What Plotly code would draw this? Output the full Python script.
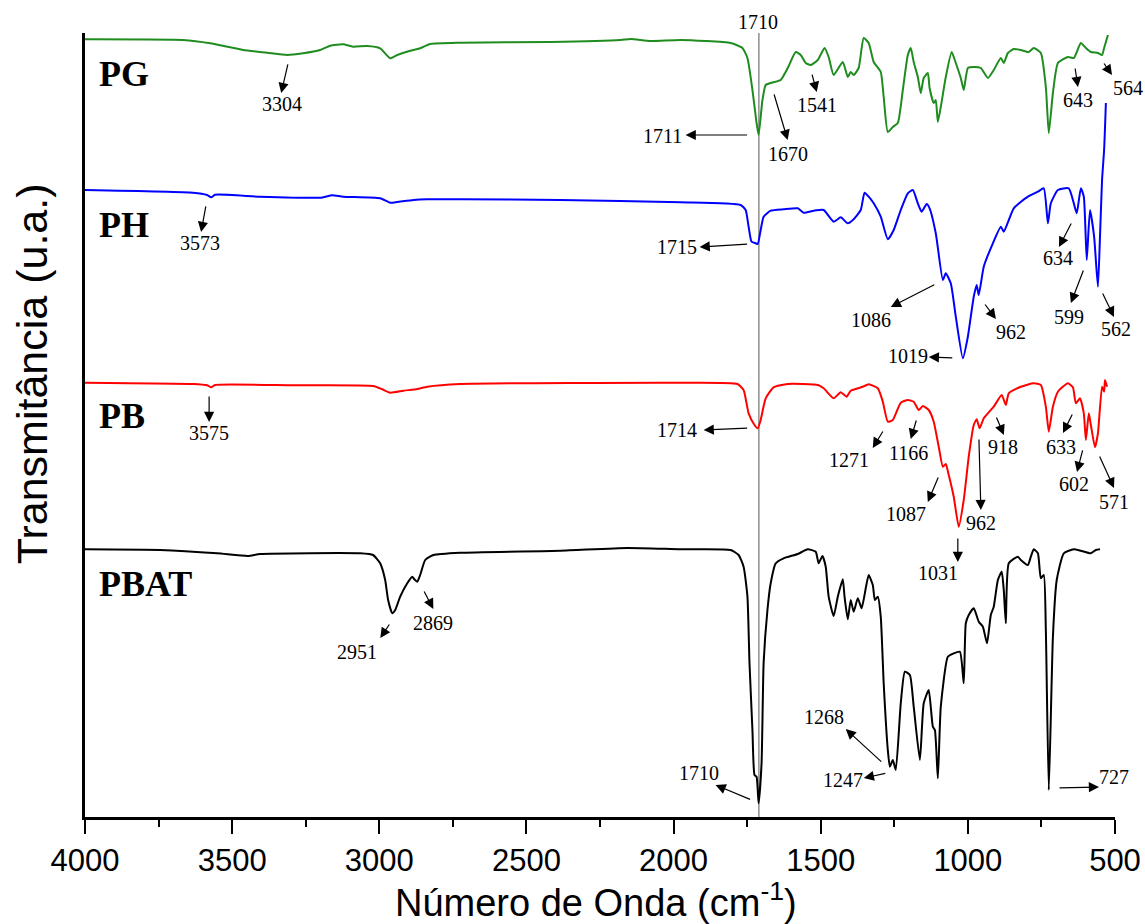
import plotly.graph_objects as go

# ---------------- data (wavenumber in cm-1, stacked transmittance in a.u.) ----------------
PG_wn = [4000, 3667, 3575, 3463, 3381, 3313, 3259, 3201, 3167, 3123, 3089, 3041, 2997, 2963, 2939, 2895, 2861, 2827,
         2725, 2418, 2180, 2146, 2078, 1976, 1806, 1766, 1749, 1732, 1718, 1711, 1698, 1687, 1670, 1636, 1612, 1585,
         1568, 1551, 1534, 1510, 1487, 1473, 1456, 1425, 1408, 1398, 1388, 1371, 1354, 1337, 1320, 1296, 1286, 1272,
         1255, 1238, 1221, 1204, 1194, 1184, 1170, 1160, 1150, 1136, 1130, 1116, 1109, 1102, 1092, 1075, 1055, 1041,
         1024, 1014, 1000, 980, 956, 932, 912, 888, 878, 864, 844, 820, 793, 776, 752, 735, 725, 711, 694, 660, 640,
         616, 599, 582, 558, 544, 537, 524]
PG_t = [77.77, 77.70, 77.37, 76.70, 76.43, 76.20, 76.37, 76.70, 77.13, 77.27, 77.03, 77.10, 76.87, 75.87, 76.20, 76.63,
        76.87, 77.30, 77.43, 77.50, 77.70, 77.80, 77.60, 77.70, 77.40, 76.90, 75.90, 72.70, 69.40, 68.20, 71.70, 73.20,
        73.40, 73.70, 74.90, 76.50, 76.20, 75.40, 75.20, 75.70, 76.90, 76.00, 74.20, 75.50, 74.00, 74.50, 74.20, 74.90,
        77.90, 77.40, 75.50, 74.50, 72.00, 68.50, 69.00, 69.40, 72.70, 76.20, 76.90, 75.50, 74.00, 72.40, 73.90, 74.40,
        72.90, 71.40, 71.70, 69.50, 71.00, 74.00, 76.50, 75.40, 73.90, 72.70, 74.90, 75.00, 74.90, 73.90, 74.70, 75.90,
        75.40, 76.40, 76.80, 76.70, 76.50, 76.90, 76.40, 73.00, 68.40, 72.40, 75.40, 76.00, 75.90, 77.40, 76.90, 76.50,
        76.40, 76.20, 76.90, 78.20]

PH_wn = [4000, 3633, 3585, 3571, 3558, 3405, 3201, 3160, 3123, 2997, 2963, 2939, 2884, 2837, 2725, 2385, 1976, 1772,
         1755, 1745, 1735, 1721, 1714, 1704, 1694, 1670, 1626, 1578, 1558, 1524, 1490, 1456, 1432, 1408, 1388, 1364,
         1351, 1337, 1320, 1296, 1272, 1252, 1228, 1204, 1187, 1170, 1157, 1140, 1130, 1109, 1085, 1075, 1058, 1041,
         1017, 1000, 980, 970, 963, 946, 915, 888, 878, 844, 796, 762, 742, 728, 718, 694, 657, 640, 630, 616, 606,
         596, 585, 571, 558, 551, 544, 537, 531]
PH_t = [62.70, 62.43, 62.20, 61.97, 62.23, 62.03, 61.93, 62.17, 62.03, 61.87, 61.43, 61.50, 61.70, 61.77, 61.77, 61.70,
        61.47, 61.20, 60.70, 59.03, 57.53, 57.37, 57.30, 58.70, 60.03, 60.63, 60.77, 60.87, 60.43, 60.63, 60.70, 59.53,
        59.97, 59.37, 59.77, 60.70, 62.43, 62.03, 61.37, 60.03, 57.77, 58.70, 60.70, 62.37, 62.70, 61.37, 60.53, 61.30,
        60.87, 58.37, 53.70, 54.37, 53.37, 50.03, 45.87, 48.03, 52.03, 53.20, 52.20, 55.03, 57.37, 59.03, 58.53, 60.87,
        62.03, 62.53, 62.87, 59.37, 61.37, 62.70, 62.87, 61.37, 60.37, 62.87, 62.03, 55.70, 60.70, 58.03, 53.03, 58.03,
        63.70, 66.70, 71.40]

PB_wn = [4000, 3633, 3585, 3571, 3558, 3293, 3021, 2990, 2963, 2918, 2871, 2837, 2725, 1976, 1783, 1762, 1745, 1725,
         1714, 1704, 1687, 1660, 1612, 1510, 1490, 1456, 1432, 1412, 1398, 1374, 1357, 1337, 1306, 1289, 1272, 1255,
         1228, 1204, 1184, 1167, 1153, 1133, 1116, 1099, 1085, 1075, 1065, 1048, 1031, 1014, 997, 980, 970, 960, 946,
         912, 885, 871, 861, 820, 776, 752, 735, 725, 711, 694, 660, 643, 633, 619, 606, 599, 589, 582, 568, 558, 544,
         537, 534, 527]
PB_t = [43.43, 43.30, 43.17, 42.97, 43.20, 43.17, 43.10, 42.77, 42.43, 42.63, 42.80, 43.03, 43.30, 43.43, 43.30, 42.70,
        40.37, 39.20, 38.87, 39.70, 41.87, 42.97, 43.30, 43.20, 42.87, 41.87, 42.47, 42.03, 42.63, 42.87, 43.03, 43.27,
        42.87, 41.53, 39.53, 39.70, 41.43, 41.70, 41.53, 40.70, 41.10, 40.70, 39.53, 37.03, 35.03, 35.30, 34.20, 32.03,
        29.03, 31.70, 36.03, 39.20, 39.77, 38.87, 39.87, 41.03, 42.20, 41.20, 42.37, 43.03, 43.37, 43.20, 41.03, 38.53,
        41.03, 42.53, 43.37, 42.97, 41.37, 41.87, 40.37, 37.70, 40.37, 39.20, 36.97, 38.37, 43.03, 42.53, 43.70, 43.03]

PBAT_wn = [4000, 3745, 3551, 3446, 3405, 3065, 3021, 2997, 2980, 2970, 2956, 2946, 2929, 2905, 2888, 2881, 2871, 2861,
           2844, 2816, 2725, 2385, 2157, 1976, 1806, 1779, 1762, 1749, 1742, 1732, 1725, 1718, 1711, 1701, 1694, 1681,
           1670, 1653, 1626, 1578, 1544, 1517, 1507, 1494, 1483, 1473, 1456, 1442, 1425, 1419, 1408, 1398, 1388, 1374,
           1361, 1347, 1337, 1323, 1316, 1306, 1296, 1286, 1272, 1265, 1255, 1245, 1228, 1214, 1197, 1184, 1163, 1150,
           1133, 1119, 1112, 1102, 1092, 1068, 1048, 1027, 1014, 1007, 997, 980, 963, 949, 935, 922, 912, 898, 885, 878,
           871, 861, 830, 820, 796, 786, 776, 762, 752, 742, 735, 725, 711, 698, 674, 640, 616, 582, 565, 551]
PBAT_t = [26.77, 26.70, 26.37, 26.10, 26.30, 26.37, 26.20, 25.37, 23.70, 21.70, 20.37, 20.70, 22.03, 23.37, 24.03, 23.77,
          23.53, 24.20, 25.70, 26.20, 26.43, 26.63, 26.90, 26.77, 26.70, 26.20, 25.03, 22.03, 15.37, 8.70, 4.20, 4.03,
          1.37, 5.37, 15.37, 20.70, 23.37, 25.37, 25.87, 26.30, 26.77, 26.53, 25.37, 26.10, 25.03, 22.03, 20.10, 22.03,
          23.77, 22.03, 19.77, 21.70, 20.53, 21.87, 20.87, 22.87, 24.20, 23.20, 21.70, 22.03, 20.03, 13.37, 6.70, 5.03,
          5.70, 4.70, 11.37, 14.53, 14.20, 11.03, 5.70, 11.37, 12.70, 9.03, 8.70, 3.87, 11.03, 16.03, 16.37, 16.53,
          13.37, 19.37, 20.20, 20.87, 19.53, 19.03, 17.37, 20.20, 21.03, 23.70, 24.53, 22.70, 19.37, 25.37, 26.03, 25.70,
          25.20, 26.03, 26.77, 26.37, 23.87, 24.20, 18.70, 2.70, 18.03, 23.70, 26.37, 26.77, 26.63, 26.37, 26.70, 26.77]

series = [("PG", PG_wn, PG_t, "#1f8c1f"),
          ("PH", PH_wn, PH_t, "#0000ff"),
          ("PB", PB_wn, PB_t, "#ff0000"),
          ("PBAT", PBAT_wn, PBAT_t, "#000000")]

x_ticks = [4000, 3500, 3000, 2500, 2000, 1500, 1000, 500]
x_minor = [3750, 3250, 2750, 2250, 1750, 1250, 750]
ref_line = 1710

# sample names (text, paper y)
sample_labels = [("PG", 0.9477), ("PH", 0.7551), ("PB", 0.5115), ("PBAT", 0.2972)]

# peak labels (text, paper x, paper y)
peak_labels = [
    ("1710", 0.6531, 1.0140),
    ("3304", 0.1914, 0.9094), ("1711", 0.5607, 0.8686), ("1670", 0.6822, 0.8457),
    ("1541", 0.7104, 0.9082), ("643", 0.9640, 0.9145), ("564", 1.0126, 0.9298),
    ("3573", 0.1118, 0.7321), ("1715", 0.5743, 0.7270), ("1086", 0.7629, 0.6339),
    ("962", 0.8989, 0.6186), ("1019", 0.7988, 0.5880), ("634", 0.9446, 0.7130),
    ("599", 0.9553, 0.6378), ("562", 1.0010, 0.6224),
    ("3575", 0.1205, 0.4898), ("1714", 0.5743, 0.4936), ("1271", 0.7415, 0.4554),
    ("1166", 0.7998, 0.4643), ("1087", 0.7969, 0.3865), ("962", 0.8698, 0.3750),
    ("918", 0.8911, 0.4719), ("633", 0.9475, 0.4719), ("602", 0.9602, 0.4247),
    ("571", 0.9990, 0.4018), ("1031", 0.8280, 0.3112),
    ("2951", 0.2643, 0.2105), ("2869", 0.3382, 0.2474), ("1710", 0.5957, 0.0561),
    ("1268", 0.7172, 0.1276), ("1247", 0.7357, 0.0472), ("727", 0.9990, 0.0510),
]

# arrows (head paper x, head paper y, tail dx px, tail dy px)
arrows = [
    (0.1905, 0.9235, 7, -30), (0.5831, 0.8699, 63, 0), (0.6822, 0.8635, -14, -47),
    (0.7104, 0.9247, -5, -19), (0.9640, 0.9311, -3, -20), (0.9971, 0.9464, -9, -13),
    (0.1127, 0.7462, 5, -27), (0.5967, 0.7270, 49, -3), (0.7823, 0.6505, 45, -23),
    (0.8844, 0.6352, -12, -16), (0.8192, 0.5867, 25, 1), (0.9456, 0.7270, 13, -25),
    (0.9572, 0.6556, 13, -34), (0.9990, 0.6378, -12, -25),
    (0.1205, 0.5038, 0, -27), (0.6006, 0.4936, 45, -2), (0.7648, 0.4707, 11, -18),
    (0.8017, 0.4821, 6, -20), (0.8183, 0.4018, 11, -26), (0.8698, 0.3916, -2, -72),
    (0.8921, 0.4872, -8, -19), (0.9495, 0.4898, 10, -20), (0.9631, 0.4401, 6, -23),
    (0.9990, 0.4196, -15, -33), (0.8474, 0.3253, 0, -25),
    (0.2867, 0.2283, 10, -15), (0.3382, 0.2653, -10, -19), (0.6122, 0.0408, 36, 15),
    (0.7386, 0.1122, 37, 34), (0.7561, 0.0497, 23, -5), (0.9845, 0.0383, -41, 1),
]

# ---------------- figure ----------------
fig = go.Figure()
for name, wn, t, color in series:
    fig.add_trace(go.Scatter(x=wn, y=t, mode="lines", name=name,
                             line=dict(color=color, width=2, shape="spline", smoothing=0.5),
                             showlegend=False, hoverinfo="skip"))

fig.add_shape(type="line", xref="x", yref="paper", x0=ref_line, x1=ref_line, y0=0, y1=1,
              line=dict(color="#555555", width=1), layer="below")

annotations = []
serif = "Liberation Serif"
for text, yp in sample_labels:
    annotations.append(dict(text=f"<b>{text}</b>", xref="paper", yref="paper", x=0.0117, y=yp,
                            xanchor="left", yanchor="middle", showarrow=False,
                            font=dict(family=serif, size=36, color="black")))
for text, xp, yp in peak_labels:
    annotations.append(dict(text=text, xref="paper", yref="paper", x=xp, y=yp,
                            xanchor="center", yanchor="middle", showarrow=False,
                            font=dict(family=serif, size=20, color="black")))
for xp, yp, ax, ay in arrows:
    annotations.append(dict(text="", xref="paper", yref="paper", x=xp, y=yp,
                            ax=ax, ay=ay, axref="pixel", ayref="pixel", showarrow=True,
                            arrowhead=2, arrowsize=1.7, arrowwidth=1.2, arrowcolor="black"))

# axis titles
annotations.append(dict(text="Número de Onda (cm<sup>-1</sup>)", xref="paper", yref="paper",
                        x=0.4961, y=-0.106, xanchor="center", yanchor="middle", showarrow=False,
                        font=dict(family="Liberation Sans", size=38, color="black")))
annotations.append(dict(text="Transmitância (u.a.)", xref="paper", yref="paper",
                        x=-0.0515, y=0.566, xanchor="center", yanchor="middle", showarrow=False,
                        textangle=-90,
                        font=dict(family="Liberation Sans", size=43, color="black")))

fig.update_layout(
    width=1145, height=924,
    margin=dict(l=85, r=30, t=33, b=107, autoexpand=False),
    paper_bgcolor="white", plot_bgcolor="white",
    annotations=annotations,
    xaxis=dict(range=[4000, 500], autorange=False, automargin=False, showgrid=False, zeroline=False,
               showline=True, linecolor="black", linewidth=2.5,
               tickmode="array", tickvals=x_ticks, ticktext=[str(v) for v in x_ticks],
               ticks="outside", ticklen=14, tickwidth=2, tickcolor="black",
               minor=dict(tickvals=x_minor,
                          ticks="outside", ticklen=7, tickwidth=2, tickcolor="black", showgrid=False),
               tickfont=dict(family="Liberation Sans", size=31, color="black")),
    yaxis=dict(range=[0, 78.4], autorange=False, automargin=False, showgrid=False, zeroline=False,
               showline=True, linecolor="black", linewidth=3,
               showticklabels=False, ticks=""),
)

# remove the default page margin so the 1145x924 figure fills the window exactly
page_fix = ("document.body.style.margin='0';"
            "document.body.style.overflow='hidden';"
            "document.documentElement.style.overflow='hidden';")
fig.write_html("out.html", post_script=page_fix, config={"displayModeBar": False})
